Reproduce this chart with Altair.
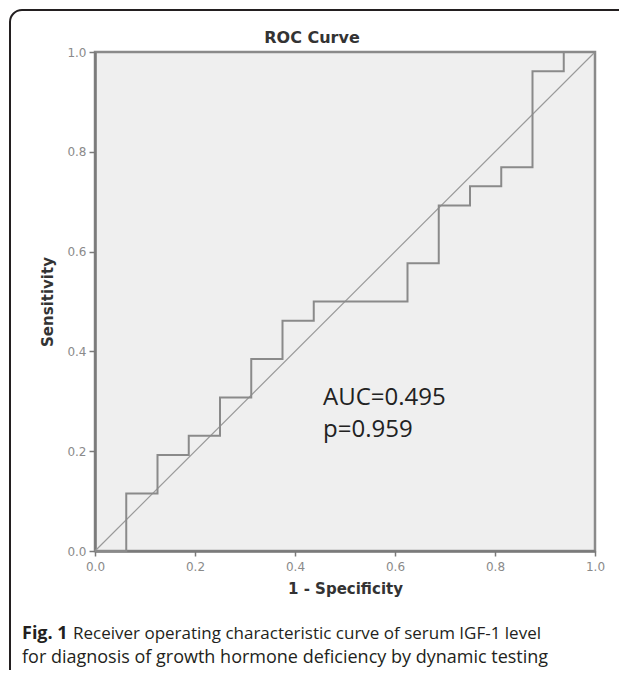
import altair as alt
import pandas as pd

# ROC curve corner points (1 - specificity, sensitivity)
fpr = [0.0, 0.0625, 0.125, 0.1875, 0.25, 0.3125, 0.375, 0.4375, 0.625, 0.6875, 0.75, 0.8125, 0.875, 0.9375, 1.0]
sens = [0.0, 0.1154, 0.1923, 0.2308, 0.3077, 0.3846, 0.4615, 0.5, 0.5769, 0.6923, 0.7308, 0.7692, 0.9615, 1.0, 1.0]
ref_x = [0.0, 1.0]
ref_y = [0.0, 1.0]
ticks = [0.0, 0.2, 0.4, 0.6, 0.8, 1.0]

title_text = "ROC Curve"
x_title = "1 - Specificity"
y_title = "Sensitivity"
annot_1 = "AUC=0.495"
annot_2 = "p=0.959"
caption_bold = "Fig. 1"
caption_1 = "Receiver operating characteristic curve of serum IGF-1 level"
caption_2 = "for diagnosis of growth hormone deficiency by dynamic testing"

roc_df = pd.DataFrame({"fpr": fpr, "sens": sens})
ref_df = pd.DataFrame({"fpr": ref_x, "sens": ref_y})
one = pd.DataFrame({"k": [0]})

xscale = alt.Scale(domain=[0, 1], nice=False)
yscale = alt.Scale(domain=[0, 1], nice=False)

xaxis = alt.Axis(values=ticks, format=".1f", title=x_title, grid=False,
                 domainColor="#7a7a7a", domainWidth=2.5, tickColor="#7a7a7a",
                 tickWidth=1.5, tickSize=5, labelFont="DejaVu Sans", labelFontSize=12,
                 labelColor="#8a8a8a", labelPadding=5, labelFlush=False,
                 titleFont="DejaVu Sans", titleFontSize=15, titleFontWeight="bold",
                 titleColor="#333333", titlePadding=9)
yaxis = alt.Axis(values=ticks, format=".1f", title=y_title, grid=False,
                 domainColor="#7a7a7a", domainWidth=2.5, tickColor="#7a7a7a",
                 tickWidth=1.5, tickSize=6, labelFont="DejaVu Sans", labelFontSize=12,
                 labelColor="#8a8a8a", labelPadding=3,
                 titleFont="DejaVu Sans", titleFontSize=15, titleFontWeight="bold",
                 titleColor="#333333", titlePadding=11)

diag = alt.Chart(ref_df).mark_line(color="#9a9a9a", strokeWidth=1.2).encode(
    x=alt.X("fpr:Q", scale=xscale, axis=xaxis),
    y=alt.Y("sens:Q", scale=yscale, axis=yaxis),
)

roc = alt.Chart(roc_df).mark_line(color="#8a8a8a", strokeWidth=2,
                                  interpolate="step-after").encode(
    x=alt.X("fpr:Q", scale=xscale),
    y=alt.Y("sens:Q", scale=yscale),
)

def txt(s, x, y, size, weight="normal", font="Open Sans", color="#2a2a2a",
        baseline="alphabetic", align="left"):
    return alt.Chart(one).mark_text(
        text=s, font=font, fontSize=size, fontWeight=weight, color=color,
        baseline=baseline, align=align,
    ).encode(x=alt.value(x), y=alt.value(y))

title = txt(title_text, 217, -14, 16, "bold", "DejaVu Sans", "#333333", "middle", "center")
a1 = txt(annot_1, 228, 353, 24, color="#222222")
a2 = txt(annot_2, 228, 385, 24, color="#222222")
cb = txt(caption_bold, -73, 582, 18, "bold", "Open Sans", "#231f20", "middle")
c1 = txt(caption_1, -22, 582, 17, "normal", "Open Sans", "#231f20", "middle")
c2 = txt(caption_2, -73, 606, 18, "normal", "Open Sans", "#231f20", "middle")

frame = alt.Chart(one).mark_rect(filled=False, stroke="#231f20", strokeWidth=2,
                                 cornerRadius=12).encode(
    x=alt.value(-85), x2=alt.value(540), y=alt.value(-42), y2=alt.value(650)
)

chart = alt.layer(diag, roc, title, a1, a2, cb, c1, c2, frame).properties(
    width=500, height=499,
    autosize=alt.AutoSizeParams(type="none"),
    padding={"left": 87, "top": 44, "right": 24, "bottom": 119},
).configure_view(
    fill="#efefef", stroke="#8a8a8a", strokeWidth=2.5
)

chart.save("out.html", embed_options={"renderer": "svg", "actions": False})
